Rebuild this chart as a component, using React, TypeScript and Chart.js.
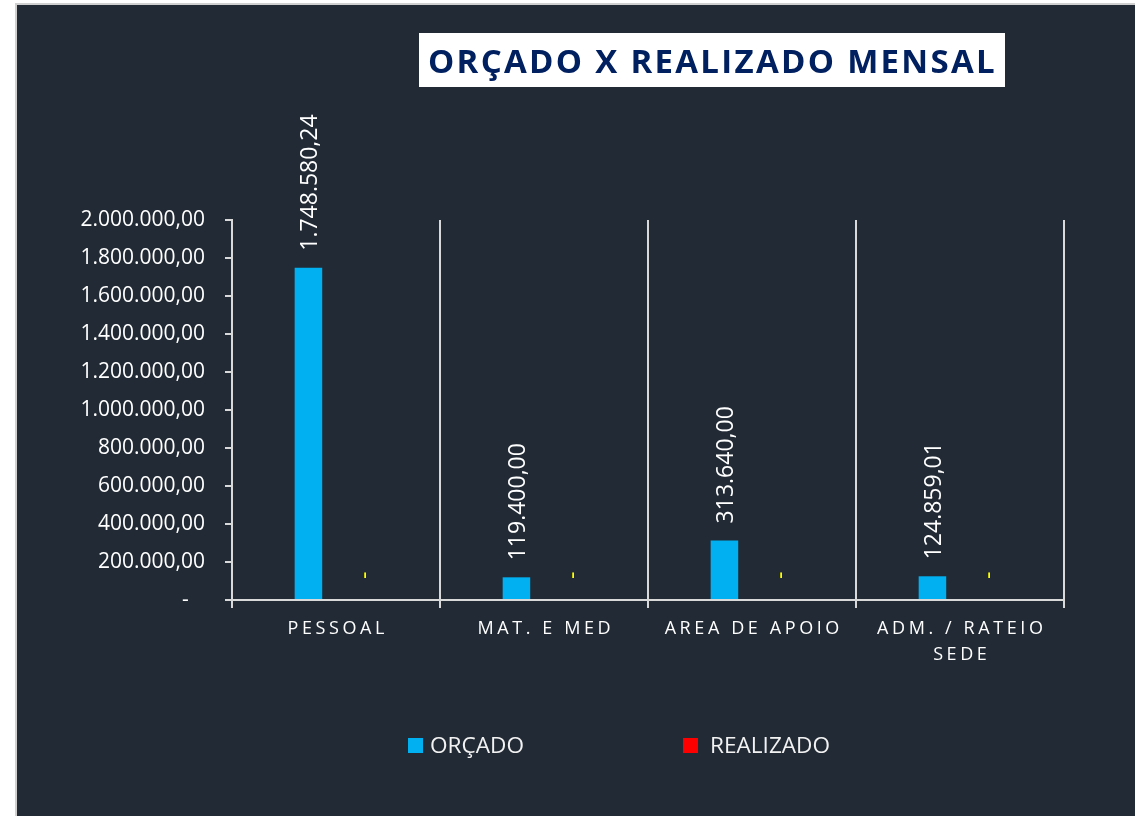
import React, { useEffect, useRef } from "react";
import { Chart, registerables } from "chart.js";

Chart.register(...registerables);

const categories: string[][] = [["PESSOAL"], ["MAT. E MED"], ["AREA DE APOIO"], ["ADM. / RATEIO", "SEDE"]];
const orcadoValues: number[] = [1748580.24, 119400.0, 313640.0, 124859.01];
const realizadoValues: number[] = [0, 0, 0, 0];
const yTickMax = 2000000;
const yTickStep = 200000;
const seriesNames = ["ORÇADO", "REALIZADO"];
const titleText = "ORÇADO X REALIZADO MENSAL";

const W = 1135;
const H = 816;
const FONT = "'Open Sans', 'Noto Sans', sans-serif";
const DARK = "#222A35";
const BLUE = "#00B0F0";
const RED = "#FF0000";
const GRID = "#D9D9D9";

function fmtBR(v: number): string {
  if (v === 0) return "-";
  const fixed = Math.abs(v).toFixed(2);
  const [int, dec] = fixed.split(".");
  const withDots = int.replace(/\B(?=(\d{3})+(?!\d))/g, ".");
  return (v < 0 ? "-" : "") + withDots + "," + dec;
}

const framePlugin = {
  id: "frame",
  beforeDraw(chart: any) {
    const ctx = chart.ctx;
    ctx.save();
    ctx.fillStyle = "#ffffff";
    ctx.fillRect(0, 0, W, H);
    ctx.fillStyle = "#D0D0D0";
    ctx.fillRect(15, 3, W - 15, H - 3);
    ctx.fillStyle = DARK;
    ctx.fillRect(17, 5, W - 17, H - 5);
    // title box
    ctx.fillStyle = "#ffffff";
    ctx.fillRect(419, 33, 586, 54);
    ctx.fillStyle = "#002060";
    ctx.font = `bold 33px ${FONT}`;
    (ctx as any).letterSpacing = "2.3px";
    ctx.textAlign = "left";
    ctx.textBaseline = "alphabetic";
    ctx.fillText(titleText, 428, 73);
    (ctx as any).letterSpacing = "0px";
    ctx.restore();
  },
  afterDraw(chart: any) {
    const ctx = chart.ctx;
    const xs = chart.scales.x;
    ctx.save();
    // x labels
    const ls = 3.6;
    ctx.font = `18px ${FONT}`;
    (ctx as any).letterSpacing = ls + "px";
    ctx.fillStyle = "#ffffff";
    ctx.textAlign = "center";
    ctx.textBaseline = "alphabetic";
    categories.forEach((lines, i) => {
      const x = xs.getPixelForValue(i) + ls / 2;
      lines.forEach((ln, j) => ctx.fillText(ln, x, 634 + j * 26));
    });
    (ctx as any).letterSpacing = "0px";
    // legend
    ctx.font = `22.6px ${FONT}`;
    ctx.textAlign = "left";
    ctx.fillStyle = BLUE;
    ctx.fillRect(408, 738, 15, 15);
    ctx.fillStyle = RED;
    ctx.fillRect(683, 738, 15, 15);
    ctx.fillStyle = "#F2F2F2";
    ctx.fillText(seriesNames[0], 430, 753);
    ctx.fillText(seriesNames[1], 710, 753);
    ctx.restore();
  },
  afterDatasetsDraw(chart: any) {
    const ctx = chart.ctx;
    ctx.save();
    ctx.font = `23px ${FONT}`;
    ctx.textAlign = "left";
    ctx.textBaseline = "middle";
    chart.data.datasets.forEach((ds: any, di: number) => {
      const meta = chart.getDatasetMeta(di);
      ctx.fillStyle = di === 0 ? "#ffffff" : "#FFFF00";
      meta.data.forEach((el: any, i: number) => {
        const v = ds.data[i];
        ctx.save();
        ctx.translate(el.x + 2, el.y - (v === 0 ? 21 : 17));
        ctx.rotate(-Math.PI / 2);
        ctx.fillText(fmtBR(v), 0, 0);
        ctx.restore();
      });
    });
    ctx.restore();
  },
};

export default function App() {
  const ref = useRef<HTMLCanvasElement | null>(null);
  useEffect(() => {
    document.body.style.margin = "0";
    const canvas = ref.current!;
    const chart = new Chart(canvas, {
      type: "bar",
      data: {
        labels: categories.map((c) => c.join(" ")),
        datasets: [
          { label: seriesNames[0], data: orcadoValues, backgroundColor: BLUE, categoryPercentage: 0.53, barPercentage: 0.5 },
          { label: seriesNames[1], data: realizadoValues, backgroundColor: RED, categoryPercentage: 0.53, barPercentage: 0.5 },
        ],
      },
      options: {
        animation: false,
        responsive: false,
        maintainAspectRatio: false,
        layout: { padding: { top: 220, right: 71, bottom: 0, left: 0 } },
        plugins: { legend: { display: false }, title: { display: false }, tooltip: { enabled: false } },
        scales: {
          x: {
            offset: true,
            grid: { display: true, offset: true, color: GRID, lineWidth: 2, drawOnChartArea: true, drawTicks: true, tickLength: 8 },
            border: { display: true, color: GRID, width: 2 },
            ticks: { display: false },
            afterFit: (s: any) => {
              s.height = 216;
            },
          },
          y: {
            min: 0,
            max: yTickMax,
            grid: { drawOnChartArea: false, drawTicks: true, tickLength: 7, color: GRID, lineWidth: 2 },
            border: { display: true, color: GRID, width: 2 },
            ticks: {
              stepSize: yTickStep,
              color: "#ffffff",
              font: { family: FONT, size: 21 },
              padding: 20,
              callback: (v: any) => (Number(v) === 0 ? "-   " : fmtBR(Number(v))),
            },
            afterFit: (s: any) => {
              s.width = 232;
            },
          },
        },
      },
      plugins: [framePlugin],
    } as any);
    return () => chart.destroy();
  }, []);
  return (
    <div style={{ width: W, height: H }}>
      <canvas ref={ref} width={W} height={H} style={{ display: "block", width: W, height: H }} />
    </div>
  );
}
